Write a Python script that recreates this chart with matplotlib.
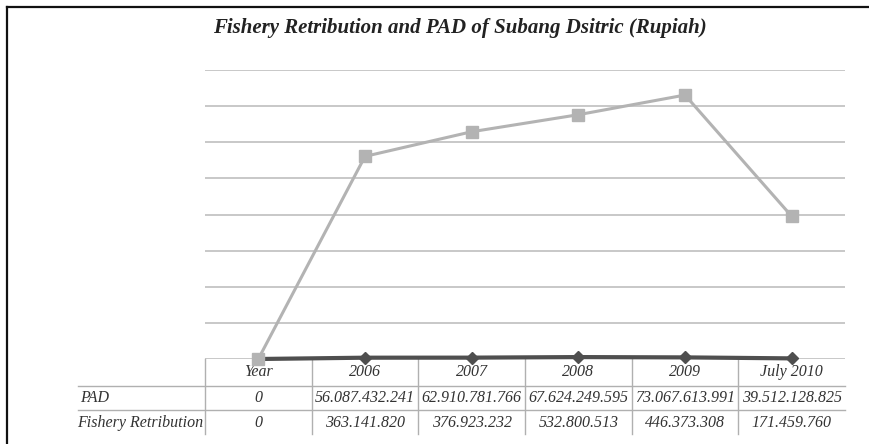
import matplotlib
matplotlib.use("Agg")
import matplotlib.pyplot as plt
from matplotlib.lines import Line2D
from matplotlib.transforms import blended_transform_factory

categories = ["Year", "2006", "2007", "2008", "2009", "July 2010"]
pad = [0, 56087432241, 62910781766, 67624249595, 73067613991, 39512128825]
fishery = [0, 363141820, 376923232, 532800513, 446373308, 171459760]
pad_labels = ["0", "56.087.432.241", "62.910.781.766", "67.624.249.595", "73.067.613.991", "39.512.128.825"]
fishery_labels = ["0", "363.141.820", "376.923.232", "532.800.513", "446.373.308", "171.459.760"]
row_names = ["PAD", "Fishery Retribution"]
title = "Fishery Retribution and PAD of Subang Dsitric (Rupiah)"

W, H = 870, 444
fig = plt.figure(figsize=(W / 100, H / 100), dpi=100)
fig.patch.set_facecolor("white")

def fx(px):
    return px / W

def fy(py):
    return 1 - py / H

ax_left, ax_right, ax_top, ax_bot = 205, 845, 70, 359
ax = fig.add_axes([fx(ax_left), fy(ax_bot), (ax_right - ax_left) / W, (ax_bot - ax_top) / H])
x = list(range(len(categories)))
ax.set_xlim(-0.5, len(categories) - 0.5)
ax.set_ylim(0, 80e9)
ax.set_yticks([i * 10e9 for i in range(9)])
ax.yaxis.grid(True, color="#c4c4c4", lw=1.3)
ax.set_axisbelow(True)
for s in ax.spines.values():
    s.set_visible(False)
ax.tick_params(left=False, bottom=False, labelleft=False, labelbottom=False)

ax.plot(x, fishery, color="#4f4f4f", lw=3, marker="D", ms=6, zorder=3, clip_on=False)
ax.plot(x, pad, color="#b3b3b3", lw=2.2, marker="s", ms=8, zorder=4, clip_on=False)

serif = ["Liberation Serif", "DejaVu Serif"]
fig.text(fx(460), fy(28), title, ha="center", va="center", fontsize=15,
         fontstyle="italic", fontweight="bold", family=serif, color="#222222")

# table
tr = blended_transform_factory(ax.transData, fig.transFigure)
line_kw = dict(color="#b0b0b0", lw=1.0)
for i in range(len(categories)):
    ax.add_line(Line2D([i - 0.5, i - 0.5], [fy(359), fy(434)], transform=tr, clip_on=False, **line_kw))
for py in (386, 410):
    fig.add_artist(Line2D([fx(78), fx(845)], [fy(py), fy(py)], **line_kw))

tkw = dict(fontsize=11.5, fontstyle="italic", family=serif, color="#333333", va="center")
for i, c in enumerate(categories):
    ax.text(i, fy(372), c, transform=tr, ha="center", **tkw)
    ax.text(i, fy(398), pad_labels[i], transform=tr, ha="center", **tkw)
    ax.text(i, fy(423), fishery_labels[i], transform=tr, ha="center", **tkw)
fig.text(fx(80), fy(398), row_names[0], ha="left", **tkw)
fig.text(fx(77), fy(423), row_names[1], ha="left", **tkw)

# outer frame
fig.add_artist(Line2D([fx(7), fx(870)], [fy(7), fy(7)], color="#111111", lw=1.6))
fig.add_artist(Line2D([fx(7), fx(7)], [fy(7), fy(444)], color="#111111", lw=1.6))

fig.savefig("out.png", dpi=100, facecolor="white")
